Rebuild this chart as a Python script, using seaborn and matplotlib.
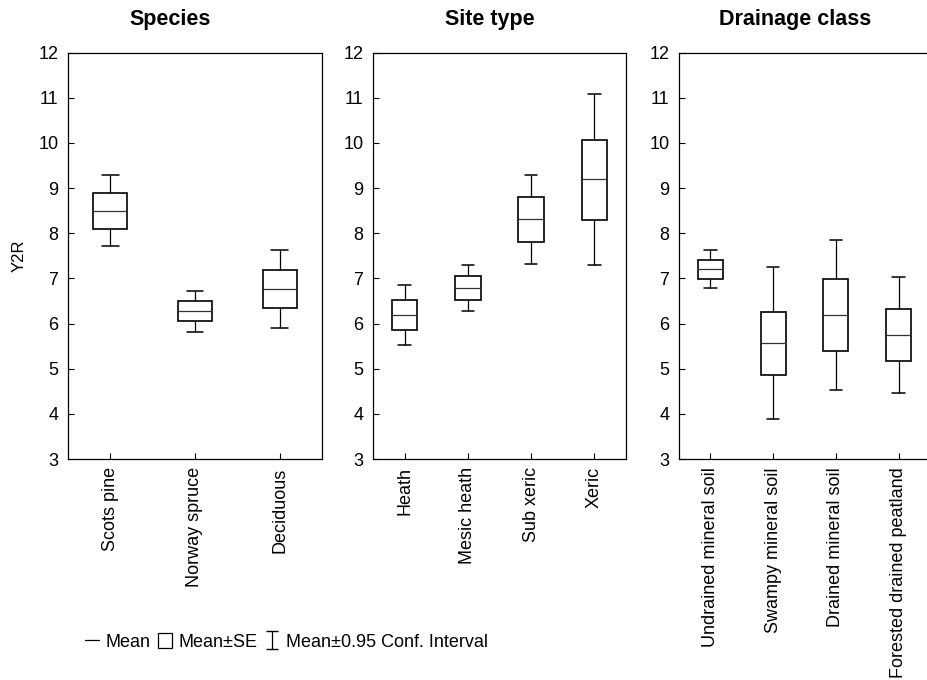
import numpy as np
import pandas as pd
import matplotlib
matplotlib.use("Agg")
import matplotlib.pyplot as plt
import seaborn as sns
from matplotlib.lines import Line2D
from matplotlib.patches import Patch

# ---- data (mean, mean±SE, mean±0.95 CI) ----
species = ["Scots pine", "Norway spruce", "Deciduous"]
species_ci_low = [7.71, 5.82, 5.90]
species_se_low = [8.10, 6.05, 6.34]
species_mean = [8.50, 6.28, 6.77]
species_se_high = [8.90, 6.50, 7.19]
species_ci_high = [9.30, 6.72, 7.62]

site = ["Heath", "Mesic heath", "Sub xeric", "Xeric"]
site_ci_low = [5.53, 6.28, 7.32, 7.30]
site_se_low = [5.86, 6.53, 7.81, 8.30]
site_mean = [6.19, 6.79, 8.31, 9.20]
site_se_high = [6.52, 7.05, 8.80, 10.07]
site_ci_high = [6.85, 7.30, 9.30, 11.09]

drain = ["Undrained mineral soil", "Swampy mineral soil", "Drained mineral soil",
         "Forested drained peatland"]
drain_ci_low = [6.78, 3.89, 4.52, 4.47]
drain_se_low = [6.98, 4.87, 5.39, 5.16]
drain_mean = [7.21, 5.57, 6.18, 5.75]
drain_se_high = [7.41, 6.26, 6.98, 6.32]
drain_ci_high = [7.62, 7.25, 7.85, 7.03]

titles = ["Species", "Site type", "Drainage class"]
yticks = [3, 4, 5, 6, 7, 8, 9, 10, 11, 12]


def summary_frame(cats, lo, sel, mean, seh, hi):
    rows = []
    for i, c in enumerate(cats):
        for v in (lo[i], sel[i], mean[i], seh[i], hi[i]):
            rows.append({"cat": c, "val": v})
    return pd.DataFrame(rows)


panels = [
    summary_frame(species, species_ci_low, species_se_low, species_mean, species_se_high, species_ci_high),
    summary_frame(site, site_ci_low, site_se_low, site_mean, site_se_high, site_ci_high),
    summary_frame(drain, drain_ci_low, drain_se_low, drain_mean, drain_se_high, drain_ci_high),
]
cat_lists = [species, site, drain]

sns.set_style("ticks")
plt.rcParams["font.family"] = ["Liberation Sans", "DejaVu Sans"]
plt.rcParams["text.color"] = "black"
plt.rcParams["axes.labelcolor"] = "black"

W, H = 928, 680
fig = plt.figure(figsize=(W / 100, H / 100), dpi=100)

lefts = [68, 373, 679]
widths = [254, 253, 251]
top_px, bot_px = 52.7, 459
title_x = [170, 490, 795]

for k in range(3):
    ax = fig.add_axes([lefts[k] / W, 1 - bot_px / H, widths[k] / W, (bot_px - top_px) / H])
    sns.boxplot(data=panels[k], x="cat", y="val", order=cat_lists[k], whis=(0, 100),
                width=0.4, color="white", linecolor="black", linewidth=1.2,
                showfliers=False, ax=ax,
                medianprops={"linewidth": 0.9, "color": "#333333"},
                whiskerprops={"linewidth": 0.9}, capprops={"linewidth": 1.1})
    ax.set_xlim(-0.5, len(cat_lists[k]) - 0.5)
    ax.set_ylim(3, 12)
    ax.set_yticks(yticks)
    ax.set_xlabel("")
    ax.set_ylabel("Y2R" if k == 0 else "", fontsize=12, labelpad=8, color="black")
    ax.tick_params(axis="both", direction="in", length=4, width=0.8, color="black",
                   labelsize=13, labelcolor="black")
    ax.tick_params(axis="y", pad=7)
    ax.tick_params(axis="x", labelrotation=90, pad=6)
    for s in ax.spines.values():
        s.set_visible(True)
        s.set_linewidth(0.9)
        s.set_color("black")
    fig.text(title_x[k] / W, 1 - 20 / H, titles[k], ha="center", va="center",
             fontsize=15.5, fontweight="bold", color="black")

# legend
dummy_ax = fig.axes[0]
eb = dummy_ax.errorbar([np.nan], [np.nan], yerr=[[np.nan]], fmt="none", ecolor="black",
                       capsize=4, elinewidth=0.9)
handles = [Line2D([], [], color="black", lw=0.9),
           Patch(facecolor="white", edgecolor="black", linewidth=0.9),
           eb]
labels = ["Mean", "Mean\u00b1SE", "Mean\u00b10.95 Conf. Interval"]
fig.legend(handles, labels, loc="center left", bbox_to_anchor=(76 / W, 1 - 642 / H),
           ncol=3, frameon=False, fontsize=13, handlelength=0.8, handletextpad=0.35,
           columnspacing=0.4, borderpad=0, handleheight=0.9, labelcolor="black")

fig.savefig("out.png", dpi=100)
